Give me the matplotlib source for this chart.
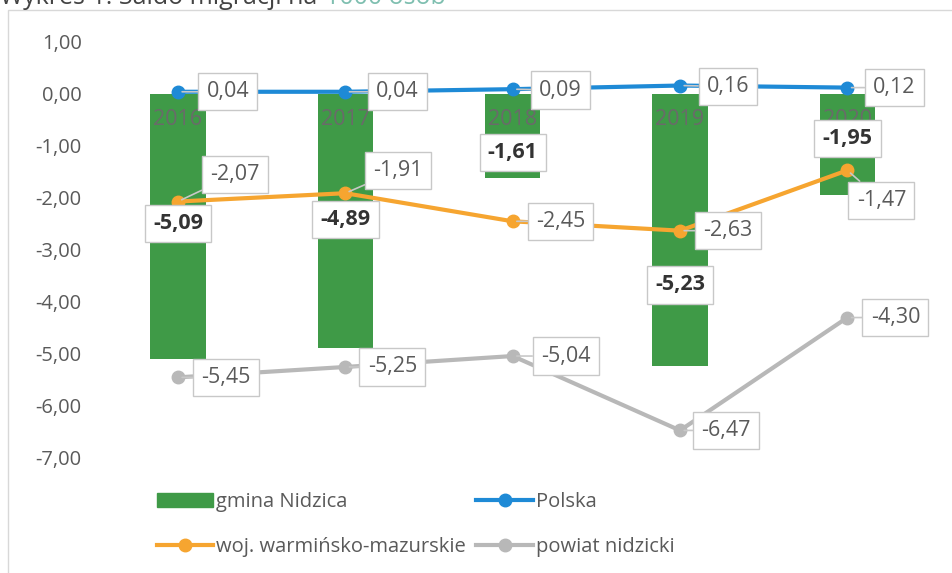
import numpy as np
import matplotlib.pyplot as plt
from matplotlib.patches import Rectangle, Patch
from matplotlib.lines import Line2D

plt.rcParams['font.family'] = ['Open Sans', 'DejaVu Sans']

# dane
lata = ['2016', '2017', '2018', '2019', '2020']
gmina = [-5.09, -4.89, -1.61, -5.23, -1.95]
polska = [0.04, 0.04, 0.09, 0.16, 0.12]
wojew = [-2.07, -1.91, -2.45, -2.63, -1.47]
powiat = [-5.45, -5.25, -5.04, -6.47, -4.30]

# polozenie etykiet (przesuniecia w pikselach)
off_gmina = [(0, 135), (0, 129), (0, 25), (0, 81), (0, 57)]
off_polska = [(50, 0), (52, 0), (48, -1), (48, -1), (47, 0)]
off_wojew = [(57, 27), (53, 23), (48, 0), (48, 0), (34, -30)]
off_powiat = [(48, 0), (47, 0), (53, 0), (46, 0), (48, 0)]

c_green = '#3f9a47'
c_blue = '#1e8ad6'
c_orange = '#f6a530'
c_gray = '#b8b8b8'
c_text = '#5a5a5a'

fig = plt.figure(figsize=(9.52, 5.73), dpi=100)
ax = fig.add_axes([0.099, 0.2007, 0.879, 0.7263])
x = np.arange(len(lata))

ax.bar(x, gmina, width=0.33, color=c_green, zorder=1)
ax.plot(x, polska, color=c_blue, lw=3, marker='o', ms=9, zorder=3)
ax.plot(x, wojew, color=c_orange, lw=3, marker='o', ms=9, zorder=3)
ax.plot(x, powiat, color=c_gray, lw=3, marker='o', ms=9, zorder=3)

box = dict(boxstyle='square,pad=0.38', fc='white', ec='#c8c8c8', lw=1)

def etykiety(vals, offs, bold=False, leader=True):
    for i, v in enumerate(vals):
        s = ('%.2f' % v).replace('.', ',')
        ap = None
        if leader:
            ap = dict(arrowstyle='-', color='#c8c8c8', lw=1.2, shrinkA=0, shrinkB=3)
        ax.annotate(s, (x[i], v), xytext=offs[i], textcoords='offset pixels',
                    ha='center', va='center', fontsize=15.5,
                    color='#333333' if bold else c_text,
                    fontweight='bold' if bold else 'normal', bbox=box,
                    arrowprops=ap, zorder=5)

etykiety(polska, off_polska)
etykiety(wojew, off_wojew)
etykiety(powiat, off_powiat)
etykiety(gmina, off_gmina, bold=True, leader=False)

# podpisy lat przy osi 0
for i, r in enumerate(lata):
    ax.text(x[i], -0.5, r, ha='center', va='center', fontsize=15.5, color='#6a6a6a', zorder=2)

ax.set_xlim(-0.5, 4.5)
ax.set_ylim(-7, 1)
ax.set_yticks(np.arange(-7, 2, 1))
ax.set_yticklabels([('%.2f' % t).replace('.', ',') for t in np.arange(-7, 2, 1)],
                   fontsize=14.5, color=c_text)
ax.set_xticks([])
ax.tick_params(axis='y', length=0, pad=9)
for sp in ax.spines.values():
    sp.set_visible(False)

# legenda
h = [Patch(color=c_green),
     Line2D([], [], color=c_orange, lw=3, marker='o', ms=9),
     Line2D([], [], color=c_blue, lw=3, marker='o', ms=9),
     Line2D([], [], color=c_gray, lw=3, marker='o', ms=9)]
lab = ['gmina Nidzica', 'woj. warmińsko-mazurskie', 'Polska', 'powiat nidzicki']
leg = fig.legend(h, lab, ncol=2, loc='upper left', bbox_to_anchor=(0.165, 0.141),
                 frameon=False, fontsize=14.5, handlelength=2.8, handletextpad=0.15,
                 columnspacing=0.5, labelspacing=1.25, borderaxespad=0, borderpad=0)
for t in leg.get_texts():
    t.set_color(c_text)

# ramka i tytul
fig.patches.append(Rectangle((8 / 952, -0.1), 1.2, 1 - 10 / 573 + 0.1, transform=fig.transFigure,
                             fill=False, ec='#d8d8d8', lw=1))
fig.text(0.0, 1 - 4 / 573, 'Wykres 1. Saldo migracji na', fontsize=18, color='#444444', va='baseline')
fig.text(0.341, 1 - 4 / 573, '1000 osób', fontsize=18, color='#7fbfb0', va='baseline')

fig.savefig('out.png', dpi=100)
